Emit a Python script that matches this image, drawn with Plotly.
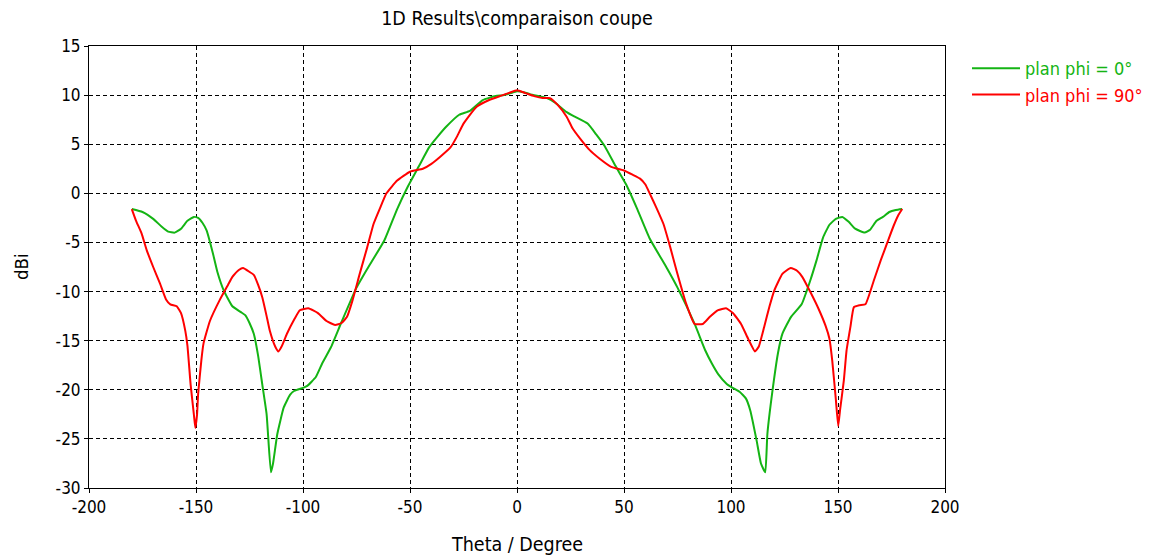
import plotly.graph_objects as go

theta_phi0 = [-180, -175, -170, -166, -163, -160, -157, -154, -151, -149, -147, -145, -142, -140,
              -137, -133, -129, -127, -125, -123, -121, -119, -117, -115, -114, -112, -109, -106,
              -104, -100, -98, -94, -91, -87, -82, -75, -70, -62, -56, -51, -46, -41, -37, -33,
              -27, -22, -16, -10, -6, -3, 0,
              3, 6, 10, 14, 18, 23, 27, 33, 37, 41, 46, 51, 56, 62, 70, 75, 83, 88, 91, 94,
              98, 100, 104, 107, 109, 112, 114, 116, 117, 120, 122, 124, 128, 133, 137, 140,
              143, 146, 149, 152, 155, 158, 162.5, 165, 168, 171, 174, 177, 180]
gain_phi0 = [-1.6, -1.9, -2.6, -3.4, -3.9, -4.0, -3.6, -2.8, -2.4, -2.5, -3.0, -3.8, -6.2, -8.0,
             -9.9, -11.5, -12.1, -12.4, -13.2, -14.3, -16.5, -19.5, -22.5, -28.4, -27.5, -24.5,
             -21.8, -20.5, -20.1, -19.8, -19.6, -18.7, -17.3, -15.7, -13.1, -9.6, -7.7, -4.8,
             -1.6, 0.7, 2.7, 4.7, 5.8, 6.8, 8.0, 8.4, 9.5, 9.9, 10.0, 10.2, 10.4,
             10.3, 10.1, 9.9, 9.7, 9.2, 8.3, 7.8, 7.1, 6.0, 4.8, 2.8, 0.9, -1.5, -4.6, -7.6,
             -9.6, -13.3, -16.0, -17.3, -18.4, -19.4, -19.7, -20.2, -20.9, -22.1, -25.2, -27.5,
             -28.4, -24.5, -19.1, -16.2, -14.3, -12.6, -11.3, -8.9, -6.8, -4.5, -3.2, -2.6,
             -2.4, -2.9, -3.6, -4.0, -3.7, -2.8, -2.4, -1.9, -1.7, -1.6]

theta_phi90 = [-180, -178, -175.4, -173, -170, -166.8, -164, -162, -159, -157, -155, -154, -152.5,
               -151, -150.3, -149.5, -149, -147.5, -146.5, -143.5, -139, -135, -133, -130, -128,
               -125, -123, -121, -119, -117, -115.5, -113, -111.5, -110, -107.5, -104, -101.5,
               -97.5, -93, -89, -85, -82, -79.5, -77, -73.5, -70, -67, -64, -61, -56, -50, -44,
               -40, -36, -31, -28, -25, -19, -13, -8, -4, 0,
               4, 8, 12, 15.4, 19, 23.2, 26, 29.4, 34, 38.8, 44, 49.7, 54, 57.5, 60, 62, 65,
               68.4, 71.5, 74.6, 79, 83, 86.8, 90, 94, 97.7, 101, 104.7, 108, 111.2, 113,
               115.5, 118, 120.2, 124, 127.9, 131, 133.3, 137.2, 141, 144.2, 146, 147.3, 149,
               150.1, 151, 152.7, 154, 155.8, 157.4, 160, 162.8, 166.7, 170, 172.9, 176, 178, 180]
gain_phi90 = [-1.6, -2.8, -4.1, -5.8, -7.5, -9.2, -10.8, -11.3, -11.5, -12.2, -14.0, -15.5, -19.5,
              -22.5, -23.9, -22.5, -20.4, -17.0, -15.3, -13.0, -10.9, -9.3, -8.5, -7.8, -7.6,
              -8.0, -8.3, -9.3, -10.6, -12.5, -14.0, -15.6, -16.1, -15.6, -14.3, -12.8, -11.9,
              -11.7, -12.2, -13.0, -13.4, -13.2, -12.6, -11.0, -8.2, -5.5, -3.1, -1.5, 0.0, 1.3,
              2.2, 2.5, 3.0, 3.7, 4.7, 5.8, 7.1, 8.8, 9.5, 9.9, 10.2, 10.5,
              10.2, 9.9, 9.7, 9.7, 9.0, 7.8, 6.6, 5.6, 4.4, 3.5, 2.7, 2.35, 1.9, 1.5, 0.9, 0.0,
              -1.4, -3.1, -5.4, -7.9, -11.2, -13.3, -13.3, -12.6, -11.9, -11.7, -12.2, -13.3,
              -14.8, -16.1, -15.6, -13.6, -11.5, -9.9, -8.2, -7.6, -7.9, -8.5, -10.1, -11.8,
              -13.5, -14.8, -17.0, -21.0, -23.7, -22.0, -19.1, -16.0, -13.6, -11.6, -11.4, -11.3,
              -8.9, -6.8, -5.1, -3.3, -2.3, -1.6]

xticks = [-200, -150, -100, -50, 0, 50, 100, 150, 200]
yticks = [-30, -25, -20, -15, -10, -5, 0, 5, 10, 15]

GREEN = "#14b414"
RED = "#ff0000"
FONT = "DejaVu Sans Condensed, DejaVu Sans, sans-serif"

# page is rendered with an 8px body margin
OFF = 8
PW, PH = 1171, 557
W, H = PW - OFF, PH - OFF
# target plot-area edges in page pixels
L, R, T, B = 89, 945, 46, 488

fig = go.Figure()
fig.add_trace(go.Scatter(x=theta_phi0, y=gain_phi0, mode="lines",
                         line=dict(color=GREEN, width=2, shape="spline", smoothing=0.4),
                         legendgroup="g0",
                         name='<span style="color:%s">plan phi = 0°</span>' % GREEN))
fig.add_trace(go.Scatter(x=theta_phi90, y=gain_phi90, mode="lines",
                         line=dict(color=RED, width=2, shape="spline", smoothing=0.4),
                         legendgroup="g1",
                         name='<span style="color:%s">plan phi = 90°</span>' % RED))

axis_common = dict(showline=True, linecolor="black", linewidth=1, mirror=True,
                   showgrid=True, gridcolor="black", gridwidth=1, griddash="4px,3px",
                   zeroline=False, ticks="outside", ticklen=4, tickcolor="black",
                   automargin=False,
                   tickfont=dict(family=FONT, size=17, color="#000000"))

fig.update_layout(
    width=W, height=H,
    margin=dict(l=L - OFF, r=PW - R, t=T - OFF, b=PH - B, autoexpand=False),
    paper_bgcolor="white", plot_bgcolor="white",
    title=dict(text="1D Results\\comparaison coupe", x=((L + R) / 2 - OFF) / W, xanchor="center",
               y=1 - (18 - OFF) / H, yanchor="middle",
               font=dict(family=FONT, size=19.5, color="#000000")),
    xaxis=dict(range=[-200, 200], tickvals=xticks, ticktext=[str(v) for v in xticks],
               **axis_common),
    yaxis=dict(range=[-30, 15], tickvals=yticks, ticktext=[str(v) for v in yticks],
               **axis_common),
    legend=dict(x=(967 - L) / (R - L), y=1 - (50 - T) / (B - T), xanchor="left", yanchor="top",
                font=dict(family=FONT, size=18), bgcolor="rgba(0,0,0,0)",
                itemwidth=48, tracegroupgap=0),
    showlegend=True,
    annotations=[
        dict(text="Theta / Degree", xref="paper", yref="paper", x=0.5, y=0,
             xanchor="center", yanchor="middle", yshift=-(544 - B), showarrow=False,
             font=dict(family=FONT, size=19.5, color="#000")),
        dict(text="dBi", xref="paper", yref="paper", x=0, y=0.5,
             xanchor="center", yanchor="middle", xshift=-(L - 21), showarrow=False,
             textangle=-90, font=dict(family=FONT, size=18.5, color="#000")),
    ],
)

fig.write_html("out.html")
